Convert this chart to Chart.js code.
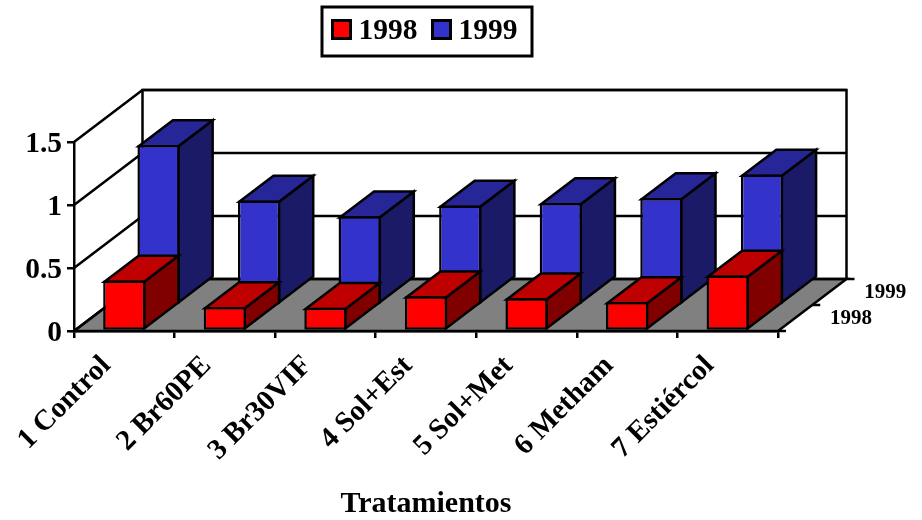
<!DOCTYPE html>
<html lang="es">
<head>
<meta charset="utf-8">
<title>Tratamientos</title>
<style>html,body{margin:0;padding:0;background:#fff}canvas{display:block}</style>
<script src="https://cdn.jsdelivr.net/npm/chart.js@4"></script>
</head>
<body>
<canvas id="c" width="922" height="520"></canvas>
<script>
const categories = ['1 Control','2 Br60PE','3 Br30VIF','4 Sol+Est','5 Sol+Met','6 Metham','7 Estiércol'];
const values1998 = [0.40,0.19,0.185,0.275,0.26,0.23,0.44];
const values1999 = [1.27,0.83,0.705,0.79,0.81,0.85,1.035];
const seriesNames = ['1998','1999'];
const frontColors = ['#ff0000','#3333cc'];
const topColors = ['#bf0000','#262699'];
const sideColors = ['#800000','#1a1a66'];
const axisTitle = 'Tratamientos';
const yTicks = [0,0.5,1,1.5];

const FONT = '"Liberation Serif","Times New Roman",serif';
const DX = 34.25, DY = 26;   // depth of one row
const LW = 2.5;

function line(ctx, pts){
  ctx.beginPath();
  pts.forEach((p,i)=> i ? ctx.lineTo(p[0],p[1]) : ctx.moveTo(p[0],p[1]));
  ctx.stroke();
}
function poly(ctx, pts, fill){
  ctx.beginPath();
  pts.forEach((p,i)=> i ? ctx.lineTo(p[0],p[1]) : ctx.moveTo(p[0],p[1]));
  ctx.closePath();
  ctx.fillStyle = fill;
  ctx.fill();
  ctx.stroke();
}

const box3d = {
  id:'box3d',
  beforeDraw(chart){
    const {ctx, chartArea:a, scales:{y}} = chart;
    const bx = 2*DX, by = 2*DY;
    ctx.save();
    ctx.strokeStyle = '#000';
    ctx.lineWidth = LW;
    ctx.lineJoin = 'miter';
    // floor
    poly(ctx, [[a.left,a.bottom],[a.right,a.bottom],[a.right+bx,a.bottom-by],[a.left+bx,a.bottom-by]], '#808080');
    // walls
    line(ctx, [[a.left+bx,a.bottom-by],[a.left+bx,a.top-by],[a.right+bx,a.top-by],[a.right+bx,a.bottom-by]]);
    // grid lines on side and back wall
    yTicks.forEach(v=>{
      const py = y.getPixelForValue(v);
      line(ctx, [[a.left,py],[a.left+bx,py-by],[a.right+bx,py-by]]);
    });
    // depth axis ticks
    for(let i=0;i<=seriesNames.length;i++){
      const ox=i*DX, oy=i*DY;
      line(ctx, [[a.right+ox,a.bottom-oy],[a.right+ox+8,a.bottom-oy]]);
    }
    ctx.fillStyle='#000';
    ctx.font='bold 21px '+FONT;
    ctx.textAlign='right';
    ctx.textBaseline='middle';
    seriesNames.forEach((s,i)=>{
      ctx.fillText(s, a.right+94+i*DX, a.bottom-13-i*DY+1);
    });
    // legend
    ctx.lineWidth=3;
    ctx.strokeRect(322,7,210,49);
    ctx.font='bold 29.5px '+FONT;
    ctx.textAlign='left';
    seriesNames.forEach((s,i)=>{
      const lx = 332.5+i*100;
      ctx.fillStyle=frontColors[i];
      ctx.fillRect(lx,20.5,18,18);
      ctx.strokeRect(lx,20.5,18,18);
      ctx.fillStyle='#000';
      ctx.fillText(s,lx+26,31);
    });
    ctx.restore();
  },
  beforeDatasetDraw(chart,args){
    const {ctx} = chart;
    const i = args.index;
    ctx.save();
    ctx.translate(i*DX,-i*DY);
    ctx.strokeStyle='#000';
    ctx.lineWidth=LW;
    ctx.lineJoin='miter';
    args.meta.data.forEach(el=>{
      const p = el.getProps(['x','y','base','width'],true);
      const l=p.x-p.width/2+LW/2, r=p.x+p.width/2-LW/2, t=p.y+LW/2, b=p.base-LW/2;
      poly(ctx,[[r,t],[r+DX,t-DY],[r+DX,b-DY],[r,b]],sideColors[i]);
      poly(ctx,[[l,t],[l+DX,t-DY],[r+DX,t-DY],[r,t]],topColors[i]);
    });
  },
  afterDatasetDraw(chart){ chart.ctx.restore(); }
};

new Chart(document.getElementById('c'),{
  type:'bar',
  data:{
    labels:categories,
    datasets:[values1998,values1999].map((d,i)=>({
      label:seriesNames[i],
      data:d,
      backgroundColor:frontColors[i],
      borderColor:'#000',
      borderWidth:LW,
      borderSkipped:false,
      grouped:false,
      clip:false,
      barPercentage:0.42,
      categoryPercentage:1
    }))
  },
  plugins:[box3d],
  options:{
    responsive:false,
    animation:false,
    events:[],
    layout:{padding:{top:142,right:144,left:0,bottom:0}},
    plugins:{legend:{display:false},tooltip:{enabled:false}},
    scales:{
      x:{
        afterFit(s){s.height=189;},
        grid:{drawOnChartArea:false,drawTicks:true,tickLength:7,color:'#000',lineWidth:LW},
        border:{display:true,color:'#000',width:LW},
        ticks:{color:'#000',font:{family:FONT,weight:'bold',size:29},minRotation:45,maxRotation:45,autoSkip:false,padding:11,labelOffset:-18},
        title:{display:true,text:axisTitle,color:'#000',font:{family:FONT,weight:'bold',size:30},padding:{top:0,bottom:-2}}
      },
      y:{
        min:0,max:1.5,
        afterFit(s){s.width=74;},
        afterBuildTicks(s){s.ticks=yTicks.map(v=>({value:v}));},
        grid:{drawOnChartArea:false,drawTicks:true,tickLength:7,color:'#000',lineWidth:LW},
        border:{display:true,color:'#000',width:LW},
        ticks:{color:'#000',font:{family:FONT,weight:'bold',size:29.5},padding:5,labelOffset:2,callback:v=>String(v)}
      }
    }
  }
});
</script>
</body>
</html>
